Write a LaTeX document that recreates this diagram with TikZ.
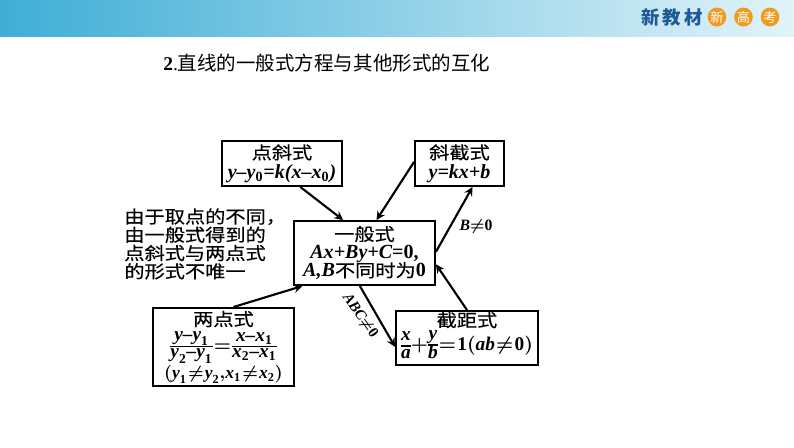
\documentclass[tikz,border=0pt]{standalone}
\usepackage{amsmath}
\usepackage{fontspec}
\setmainfont{Liberation Serif}
\newfontfamily\cjk{Noto Sans CJK SC}
\newfontfamily\cjkwide[FakeStretch=1.15,FakeBold=0.35]{Noto Sans CJK SC}
\usetikzlibrary{shapes.geometric}
\definecolor{bandleft}{RGB}{62,174,214}
\definecolor{bandmid}{RGB}{136,207,232}
\definecolor{bandright}{RGB}{226,243,249}
\definecolor{logoblue}{RGB}{30,90,150}
\definecolor{logoorange}{RGB}{240,155,30}
\newcommand{\mi}[1]{\text{\bfseries\itshape #1}}
\newcommand{\mn}[1]{\text{\bfseries\upshape #1}}
\newcommand{\fm}[1]{{\bfseries\itshape #1}}
\newcommand{\sbz}[1]{\textsubscript{\upshape #1}}
\newcommand{\tightmath}{\boldmath\thinmuskip=0mu\medmuskip=0mu\thickmuskip=1mu\nulldelimiterspace=0pt}
\newcommand{\tightlines}{\lineskiplimit=-8pt\relax}
\newcommand{\barfrac}[3][0.8]{{\renewcommand{\arraystretch}{#1}\setlength{\arraycolsep}{0pt}\setlength{\arrayrulewidth}{0.7pt}\begin{array}{c}#2\\\hline #3\end{array}}}
\newcommand{\boxhead}{\cjkwide\fontsize{10}{11}\selectfont}
\newlength{\unit}
\setlength{\unit}{0.02cm}
\tikzset{
	formbox/.style={draw, line width=1.1pt, inner sep=0pt, align=center, font=\fontsize{11.4}{11}\selectfont\tightlines},
	formarrow/.style={-stealth, line width=1.2pt},
	logodot/.style={fill=logoorange, ellipse, inner sep=0pt, minimum width=17\unit, minimum height=19\unit, text=white, font=\cjk\fontsize{7.5}{8}\selectfont}
}
\begin{document}
\begin{tikzpicture}[x=0.02cm, y=-0.02cm]
	\useasboundingbox (0,0) rectangle (794,447);

	% Draw the top band
	\path[left color=bandleft, middle color=bandmid, right color=bandright] (0,0) rectangle (794,36);
	\node[text=logoblue, font=\cjk\bfseries\fontsize{10.5}{11}\selectfont] (logotext) at (672,17) {新\,教\,材};
	\node[logodot] (logoa) at (717,17) {新};
	\node[logodot] (logob) at (743.5,17) {高};
	\node[logodot] (logoc) at (770,17) {考};

	% Draw the title
	\node[anchor=west, inner sep=0pt, font=\cjk\fontsize{11.1}{13}\selectfont] (title) at (163,63) {{\rmfamily\bfseries 2}{\rmfamily .}直线的一般式方程与其他形式的互化};

	% Draw the five forms
	\node[formbox, minimum width=120\unit, minimum height=45\unit] (pointslope) at (282,163.5) {{\boxhead 点斜式}\\\fm{y--y\sbz{0}=k(x--x\sbz{0})}};
	\node[formbox, minimum width=89\unit, minimum height=45\unit] (slopeint) at (459.5,163.5) {{\boxhead 斜截式}\\\fm{y=kx+b}};
	\node[formbox, minimum width=141\unit, minimum height=64\unit] (general) at (364.5,253) {{\boxhead 一般式}\\[-0.7pt]\fm{Ax+By+C}{\bfseries =0,}\\[-0.7pt]\fm{A,B}{\boxhead 不同时为}{\bfseries 0}};
	\node[formbox, minimum width=141\unit, minimum height=78\unit] (twopoint) at (223.5,347) {{\boxhead 两点式}\\[3.6pt]{\fontsize{11}{11}\selectfont\tightmath$\barfrac{\mi{y--y}_{\mn{1}}}{\mi{y}_{\mn{2}}\mi{--y}_{\mn{1}}}=\barfrac{\mi{x--x}_{\mn{1}}}{\mi{x}_{\mn{2}}\mi{--x}_{\mn{1}}}$}\\[4.4pt]{\fontsize{10}{11}\selectfont\tightmath$(\mi{y}_{\mn{1}}\neq\mi{y}_{\mn{2}},\mi{x}_{\mn{1}}\neq\mi{x}_{\mn{2}})$}};
	\node[formbox, minimum width=142\unit, minimum height=54\unit] (intercept) at (467,338) {{\boxhead 截距式}\\[2.6pt]{\fontsize{11}{11}\selectfont\tightmath$\barfrac[0.85]{\,\mi{x}\,}{\mi{a}}+\barfrac[0.85]{\,\mi{y}\,}{\mi{b}}=\mn{1}(\mi{ab}\neq\mn{0})$}};

	% Draw the side note
	\node[anchor=north west, inner sep=0pt, align=left, font=\cjkwide\fontsize{10}{10.4}\selectfont\tightlines] (note) at (124,208) {由于取点的不同，\\由一般式得到的\\点斜式与两点式\\的形式不唯一};

	% Draw the arrows
	\draw[formarrow] (pointslope.-52.9) -- (general.123.9);
	\draw[formarrow] (slopeint.178) -- (general.70.2);
	\draw[formarrow] (general.1) -- (slopeint.-61);
	\draw[formarrow] (intercept.90) -- (general.-9.7);
	\draw[formarrow] (general.-98) -- (intercept.187.2);
	\draw[formarrow] (twopoint.76.3) -- (general.-152.5);

	% Draw the conditions
	\node[font=\fontsize{9}{10}\selectfont] (condb) at (476,227) {\fm{B}{\boldmath$\neq$}{\bfseries 0}};
	\node[rotate=-55, font=\fontsize{8.5}{10}\selectfont] (condabc) at (360,316) {\fm{ABC}{\boldmath$\neq$}{\bfseries 0}};
\end{tikzpicture}
\end{document}
